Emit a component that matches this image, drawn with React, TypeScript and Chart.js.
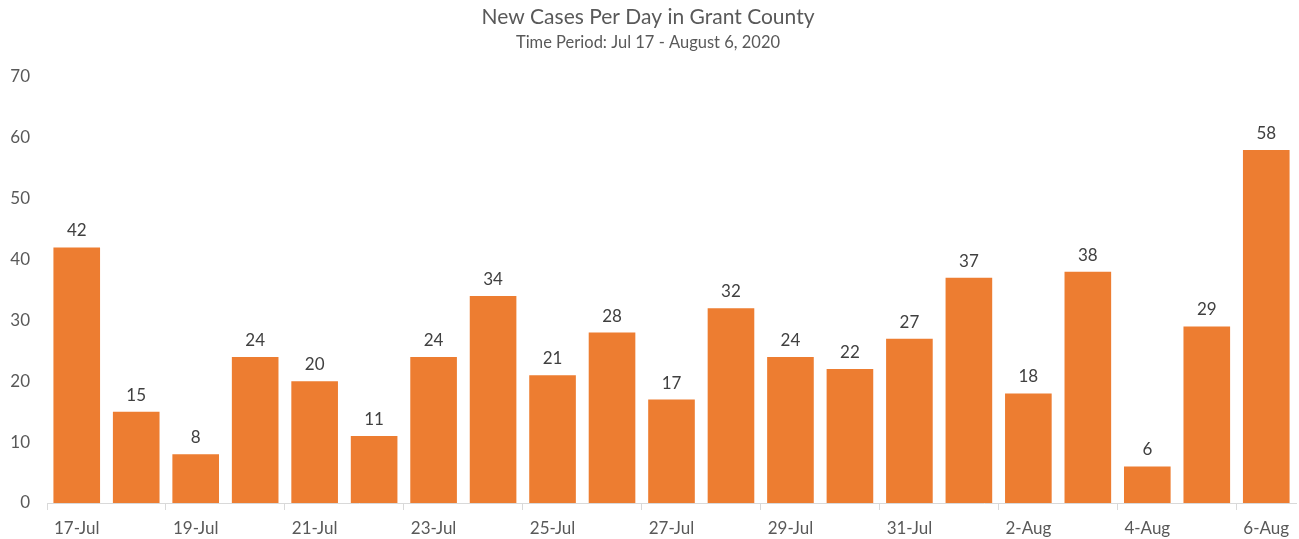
import React, { useEffect, useRef } from 'react';
import { Chart, registerables } from 'chart.js';

Chart.register(...registerables);

const categories = [
  '17-Jul', '18-Jul', '19-Jul', '20-Jul', '21-Jul', '22-Jul', '23-Jul',
  '24-Jul', '25-Jul', '26-Jul', '27-Jul', '28-Jul', '29-Jul', '30-Jul',
  '31-Jul', '1-Aug', '2-Aug', '3-Aug', '4-Aug', '5-Aug', '6-Aug',
];
const newCases = [42, 15, 8, 24, 20, 11, 24, 34, 21, 28, 17, 32, 24, 22, 27, 37, 18, 38, 6, 29, 58];
const yMin = 0;
const yMax = 70;
const yStep = 10;

const titleText = 'New Cases Per Day in Grant County';
const subtitleText = 'Time Period: Jul 17 - August 6, 2020';

const FONT = 'Lato, Carlito, Calibri, sans-serif';

const barLabels = {
  id: 'barLabels',
  afterDatasetsDraw(chart: any) {
    const ctx = chart.ctx;
    const meta = chart.getDatasetMeta(0);
    const data = chart.data.datasets[0].data;
    ctx.save();
    ctx.font = `17px ${FONT}`;
    ctx.fillStyle = '#404040';
    ctx.textAlign = 'center';
    ctx.textBaseline = 'bottom';
    meta.data.forEach((el: any, i: number) => {
      ctx.fillText(String(data[i]), el.x, el.y - 8);
    });
    ctx.restore();
  },
};

export default function App() {
  const ref = useRef<HTMLCanvasElement | null>(null);
  useEffect(() => {
    document.body.style.margin = '0';
    const canvas = ref.current;
    if (!canvas) return;
    const chart = new Chart(canvas, {
      type: 'bar',
      data: {
        labels: categories,
        datasets: [
          {
            label: 'New Cases',
            data: newCases,
            backgroundColor: '#ED7D31',
            borderWidth: 0,
            categoryPercentage: 0.8,
            barPercentage: 0.98,
          },
        ],
      },
      options: {
        responsive: false,
        animation: false,
        layout: { padding: { left: 0, right: 3, top: 0, bottom: 0 } },
        plugins: {
          legend: { display: false },
          tooltip: { enabled: false },
          title: {
            display: true,
            text: titleText,
            color: '#595959',
            font: { family: FONT, size: 21, weight: 'normal' },
            padding: { top: 5, bottom: 0 },
          },
          subtitle: {
            display: true,
            text: subtitleText,
            color: '#595959',
            font: { family: FONT, size: 16.5, weight: 'normal' },
            padding: { top: 3, bottom: 24 },
          },
        },
        scales: {
          x: {
            offset: true,
            grid: {
              offset: true,
              drawOnChartArea: false,
              drawTicks: true,
              tickLength: 7,
              color: (c: any) => (c.index % 2 === 0 ? '#D9D9D9' : 'rgba(0,0,0,0)'),
            },
            border: { display: true, color: '#D9D9D9', width: 1 },
            ticks: {
              autoSkip: false,
              maxRotation: 0,
              minRotation: 0,
              padding: 8,
              color: '#595959',
              font: { family: FONT, size: 17 },
              callback: (_v: any, i: number) => (i % 2 === 0 ? categories[i] : ''),
            },
            afterFit: (scale: any) => {
              scale.height = 36;
            },
          },
          y: {
            min: yMin,
            max: yMax,
            grid: { display: false },
            border: { display: false },
            ticks: {
              stepSize: yStep,
              padding: 9,
              color: '#595959',
              font: { family: FONT, size: 17 },
            },
            afterFit: (scale: any) => {
              scale.width = 47;
            },
          },
        },
      },
      plugins: [barLabels],
    });
    return () => chart.destroy();
  }, []);
  return <canvas ref={ref} width={1299} height={539} style={{ display: 'block' }} />;
}
